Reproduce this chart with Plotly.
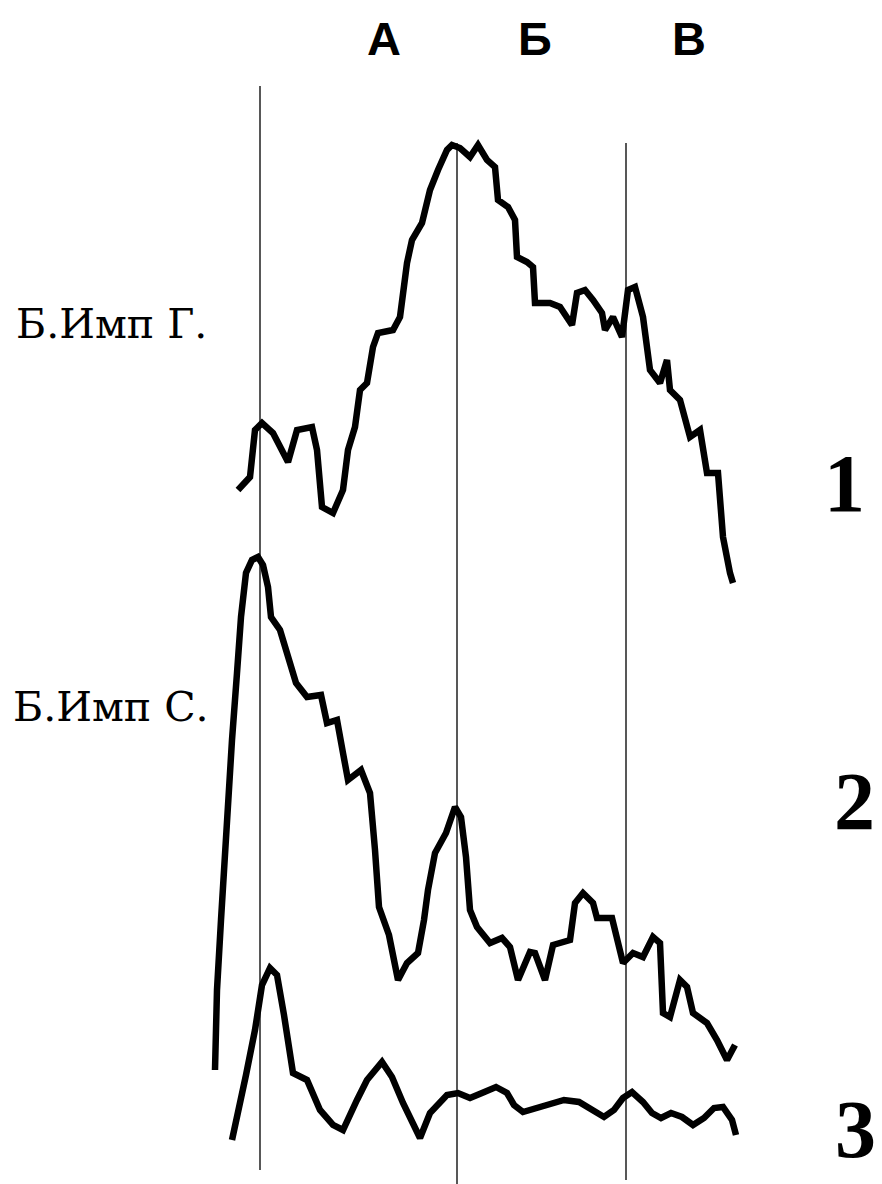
import plotly.graph_objects as go

c1_x = [238,250,255,262,273,288,297,312,317,322,333,343,348,355,360,367,373,378,393,400,407,412,422,430,438,447,452,460,470,478,487,495,498,508,515,517,527,533,535,550,560,572,577,585,593,602,605,613,622,628,635,643,650,660,667,670,680,690,700,707,718,723,730,733]
c1_y = [490,477,430,423,433,462,430,427,450,507,513,490,450,427,390,383,347,333,330,317,263,240,223,190,170,150,145,148,157,145,160,167,200,207,220,257,262,267,303,303,307,325,293,290,300,313,330,317,337,290,287,317,370,383,360,390,400,437,430,473,473,537,573,583]

c2_x = [215,217,221,227,232,237,241,246,252,258,263,268,271,280,289,296,307,321,327,337,343,348,361,370,375,379,389,398,407,418,424,428,435,446,455,461,466,470,477,490,502,510,518,530,535,545,553,570,575,583,593,597,612,617,623,633,643,653,660,663,670,680,687,693,707,717,727,735]
c2_y = [1070,990,920,807,740,673,617,573,560,557,565,587,617,630,660,683,697,695,723,720,753,780,770,793,850,907,935,980,963,953,920,890,853,833,807,817,857,910,927,943,938,947,980,952,953,980,945,940,903,893,903,918,918,937,963,953,957,937,943,1013,1017,980,987,1013,1023,1040,1060,1045]

c3_x = [232,239,246,255,262,270,277,284,293,307,320,333,343,357,367,382,392,403,420,430,447,458,470,482,496,507,514,523,536,550,564,579,593,604,614,623,632,643,652,661,671,682,693,704,714,723,732,736]
c3_y = [1140,1110,1075,1030,985,968,975,1015,1073,1080,1110,1125,1130,1100,1080,1062,1077,1103,1138,1113,1095,1093,1098,1093,1087,1093,1105,1112,1108,1103,1100,1102,1110,1117,1110,1098,1092,1102,1113,1118,1113,1117,1125,1118,1108,1107,1120,1135]

marker_x = [260, 457, 626]
marker_top = [86, 143, 143]
marker_bottom = [1170, 1184, 1180]

zone_labels = ["А", "Б", "В"]
zone_label_x = [384, 535, 689]
zone_label_y = 38

side_labels = ["Б.Имп Г.", "Б.Имп С."]
side_label_x = [14, 11]
side_label_y = [324, 707]

curve_numbers = ["1", "2", "3"]
curve_number_x = [844, 854, 855]
curve_number_y = [483, 801, 1129]

fig = go.Figure()

for mx, t, b in zip(marker_x, marker_top, marker_bottom):
    fig.add_trace(go.Scatter(x=[mx, mx], y=[t, b], mode="lines",
                             line=dict(color="#111111", width=1.4),
                             hoverinfo="skip", showlegend=False))

for xs, ys in [(c1_x, c1_y), (c2_x, c2_y), (c3_x, c3_y)]:
    fig.add_trace(go.Scatter(x=xs, y=ys, mode="lines",
                             line=dict(color="black", width=6.5),
                             showlegend=False))

for t, x in zip(zone_labels, zone_label_x):
    fig.add_annotation(x=x, y=zone_label_y, text=t, showarrow=False,
                       xanchor="center", yanchor="middle",
                       font=dict(family="Liberation Sans, Arial", size=47, color="black", weight="bold"))

for t, x, y in zip(side_labels, side_label_x, side_label_y):
    fig.add_annotation(x=x, y=y, text=t, showarrow=False,
                       xanchor="left", yanchor="middle",
                       font=dict(family="DejaVu Serif", size=41, color="black"))

for t, x, y in zip(curve_numbers, curve_number_x, curve_number_y):
    fig.add_annotation(x=x, y=y, text=t, showarrow=False,
                       xanchor="center", yanchor="middle", borderpad=0,
                       font=dict(family="Liberation Serif, Times New Roman", size=82, color="black", weight="bold"))

fig.update_layout(width=882, height=1184, margin=dict(l=0, r=0, t=0, b=0),
                  paper_bgcolor="white", plot_bgcolor="white")
fig.update_xaxes(range=[0, 882], visible=False, fixedrange=True)
fig.update_yaxes(range=[1184, 0], visible=False, fixedrange=True)

fig.write_html("out.html")
